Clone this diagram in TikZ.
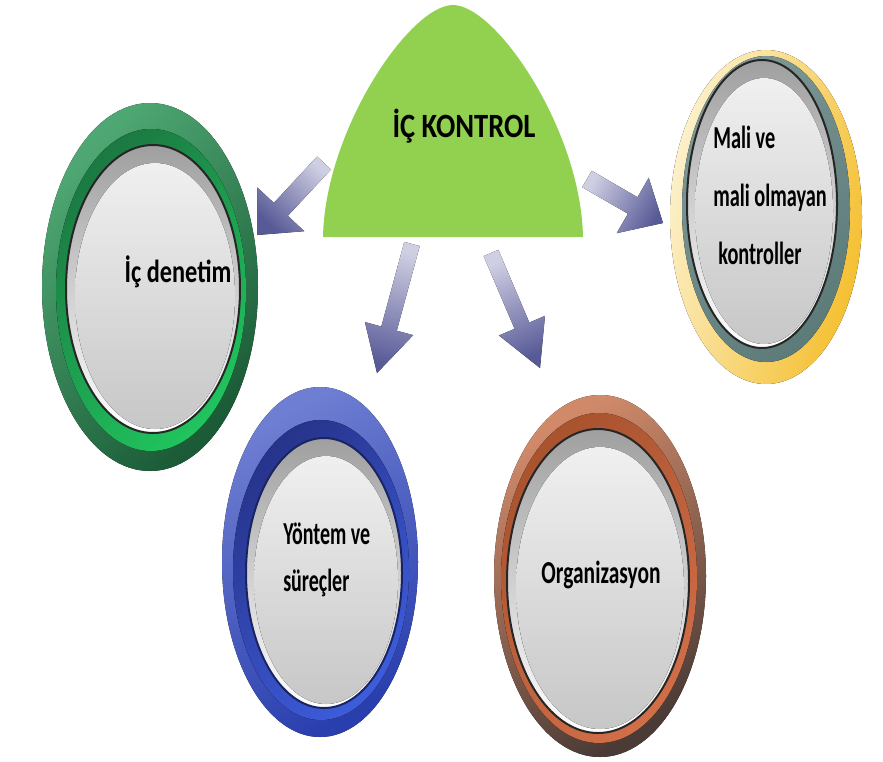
\documentclass[tikz,border=0pt]{standalone}
\usepackage{fontspec}
\setmainfont{Carlito}
\usetikzlibrary{calc,positioning}

\definecolor{domegreen}{HTML}{92D050}
\definecolor{arrowtail}{HTML}{CFCFE3}
\definecolor{arrowhead}{HTML}{585A97}
\definecolor{greenlight}{HTML}{4FA873}
\definecolor{greendark}{HTML}{1A5A36}
\definecolor{greenbandlo}{HTML}{1B7A42}
\definecolor{greenbandhi}{HTML}{20C35D}
\definecolor{bluelight}{HTML}{6E7ED2}
\definecolor{bluedark}{HTML}{2A3FAE}
\definecolor{bluebandlo}{HTML}{27348C}
\definecolor{bluebandhi}{HTML}{3D5CDA}
\definecolor{brownlight}{HTML}{D08A6A}
\definecolor{browndark}{HTML}{4B3B36}
\definecolor{brownbandlo}{HTML}{A9532F}
\definecolor{brownbandhi}{HTML}{D06E48}
\definecolor{glowpale}{HTML}{FDF2D0}
\definecolor{glowgold}{HTML}{F4BE2C}
\definecolor{tealgrey}{HTML}{5C7B79}
\definecolor{tealgreylight}{HTML}{7E9896}

\tikzset{
  headline/.style={
    font=\fontsize{17}{20}\selectfont\bfseries,
    inner sep=0pt,
    xscale=0.84,
  },
  ringtext/.style={
    font=\fontsize{16}{29}\selectfont\bfseries,
    inner sep=0pt,
    align=left,
    xscale=#1,
  },
  ringtext/.default=0.7,
  flow/.style={
    top color=arrowtail,
    bottom color=arrowhead,
    shading angle=#1,
  },
  rim/.style={
    draw=black!85,
    line width=1pt,
    top color=gray!75,
    bottom color=white,
  },
  disc/.style={
    top color=black!6,
    bottom color=black!22,
  },
}

% [shaft half width]{tail}{tip}{shading angle}{head length}{head half width}
\newcommand{\flowarrow}[6][4.5pt]{%
  \coordinate (hb) at ($(#3)!#5!(#2)$);
  \fill[flow=#4] ($(#2)!#1!90:(#3)$) -- ($(hb)!#1!90:(#3)$) -- ($(hb)!#6!90:(#3)$) -- (#3)
    -- ($(hb)!#6!-90:(#3)$) -- ($(hb)!#1!-90:(#3)$) -- ($(#2)!#1!-90:(#3)$) -- cycle;
}

\begin{document}
\begin{tikzpicture}[x=0.5pt,y=-0.5pt]
	\fill[white] (0,0) rectangle (883,761);

	% arrow ends
	\coordinate (t1) at (324,163);  \coordinate (p1) at (257,235);
	\coordinate (t2) at (412,244);  \coordinate (p2) at (377,373);
	\coordinate (t3) at (491,253);  \coordinate (p3) at (540,368);
	\coordinate (t4) at (587,179);  \coordinate (p4) at (663,223);

	\flowarrow[4.75pt]{t1}{p1}{317}{17.5pt}{16pt}
	\flowarrow[4pt]{t2}{p2}{344.8}{23pt}{12.5pt}
	\flowarrow[4pt]{t3}{p3}{23.1}{23pt}{12.5pt}
	\flowarrow[4.75pt]{t4}{p4}{60}{17.5pt}{16pt}

	% dome
	\fill[domegreen] (323,237) .. controls (325,130) and (410,5) .. (453,5)
	  .. controls (496,5) and (581,130) .. (583,237) -- cycle;
	\node[headline, anchor=base] (title) at (464,137) {İÇ KONTROL};

	% green ring
	\fill[top color=greenlight, bottom color=greendark, shading angle=45] (150,287) ellipse[x radius=108, y radius=184];
	\fill[top color=greenbandlo, bottom color=greenbandhi, shading angle=45] (151,290) ellipse[x radius=95, y radius=161];
	\filldraw[rim] (153,289) ellipse[x radius=87, y radius=144];
	\fill[disc] (155,296) ellipse[x radius=80, y radius=133];
	\node[ringtext=0.76, anchor=base] (audit) at (178,282) {İç denetim};

	% blue ring
	\fill[top color=bluelight, bottom color=bluedark, shading angle=30] (320,562) ellipse[x radius=98, y radius=175];
	\fill[top color=bluebandlo, bottom color=bluebandhi, shading angle=45] (321,570) ellipse[x radius=88, y radius=150];
	\filldraw[rim, draw=bluebandlo!70!black] (324,573) ellipse[x radius=78, y radius=135];
	\fill[disc] (326,580) ellipse[x radius=72, y radius=124];
	\node[ringtext=0.625, anchor=north west] (method) at (283,522) {Yöntem ve\\[-5.5pt]süreçler};

	% brown ring
	\fill[top color=brownlight, bottom color=browndark, shading angle=30] (600,576) ellipse[x radius=106, y radius=181];
	\fill[top color=brownbandlo, bottom color=brownbandhi, shading angle=45] (599,578) ellipse[x radius=98, y radius=165];
	\filldraw[rim] (598,581) ellipse[x radius=91, y radius=152];
	\fill[disc] (600,588) ellipse[x radius=84, y radius=141];
	\node[ringtext=0.67, anchor=base] (org) at (601,583) {Organizasyon};

	% gold ring
	\fill[top color=glowpale, bottom color=glowgold, shading angle=75] (766,217) ellipse[x radius=96, y radius=167];
	\fill[top color=tealgreylight, bottom color=tealgrey, shading angle=45] (766,209) ellipse[x radius=84, y radius=153];
	\filldraw[rim] (762,204) ellipse[x radius=75, y radius=144];
	\fill[disc] (764,211) ellipse[x radius=69, y radius=133];
	\node[ringtext=0.635, anchor=north west] (finance) at (713,126) {Mali ve\\mali olmayan\\\hspace*{4pt}kontroller};
\end{tikzpicture}
\end{document}
